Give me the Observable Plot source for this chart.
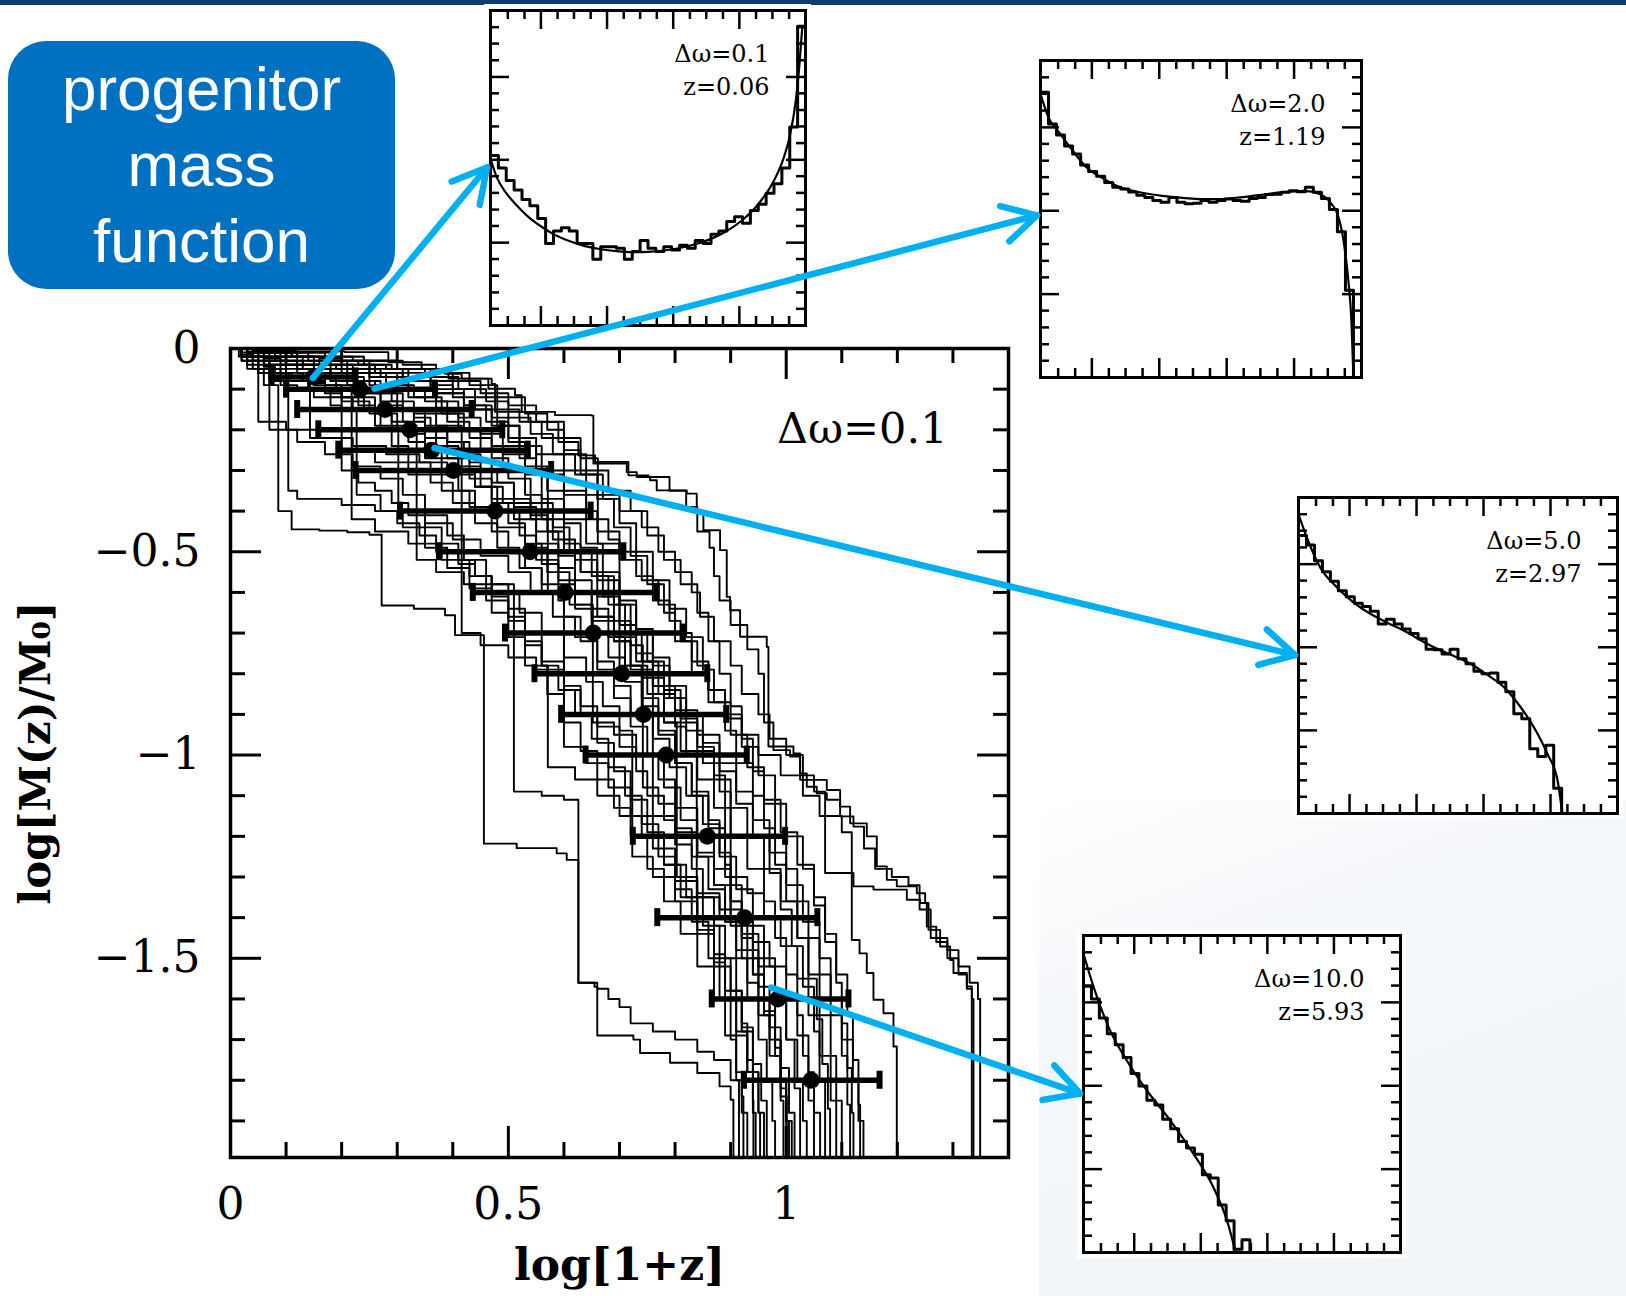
<!DOCTYPE html>
<html><head><meta charset="utf-8">
<script src="https://cdn.jsdelivr.net/npm/d3@7"></script>
<script src="https://cdn.jsdelivr.net/npm/@observablehq/plot@0.6"></script>
<style>
html,body{margin:0;padding:0;background:#fff;}
#page{position:relative;width:1626px;height:1296px;overflow:hidden;background:#fff;}
#topbar{position:absolute;left:0;top:0;width:1626px;height:5px;background:#0e3c6b;}
#tint{position:absolute;left:1039px;top:800px;width:587px;height:496px;background:linear-gradient(160deg,#ffffff 0%,#f3f6fa 35%,#f2f5f9 100%);}
#callout{position:absolute;left:8px;top:41px;width:387px;height:248px;border-radius:38px;background:#0070c0;color:#fff;
 font-family:"Liberation Sans",Arial,sans-serif;font-size:62px;line-height:76px;display:flex;align-items:center;justify-content:center;text-align:center;}
</style></head>
<body><div id="page"><div id="tint"></div><div id="topbar"></div><div id="callout"></div></div>
<script>
// ---------------- DATA ----------------
const calloutLines = ["progenitor", "mass", "function"];

// main plot axes
const xLabelTicks = [0, 0.5, 1];
const yLabelTicks = [0, -0.5, -1, -1.5];
const xMajorTicks = [0.5, 1];
const xMinorTicks = [0.1, 0.2, 0.3, 0.4, 0.6, 0.7, 0.8, 0.9, 1.1, 1.2, 1.3];
const yMajorTicks = [-0.5, -1, -1.5];
const yMinorTicks = [-0.1, -0.2, -0.3, -0.4, -0.6, -0.7, -0.8, -0.9, -1.1, -1.2, -1.3, -1.4, -1.6, -1.7, -1.8, -1.9];
const mainLabel = "Δω=0.1";
const xAxisTitle = "log[1+z]";
const yAxisTitle = "log[M(z)/M₀]";

// mean + error bars
const barY   = [-0.07, -0.1, -0.15, -0.2, -0.25, -0.3, -0.4, -0.5, -0.6, -0.7, -0.8, -0.9, -1.0, -1.2, -1.4, -1.6, -1.8];
const barMid = [0.15, 0.233, 0.278, 0.323, 0.362, 0.401, 0.476, 0.539, 0.602, 0.653, 0.704, 0.743, 0.784, 0.858, 0.925, 0.985, 1.045];
const barLo  = [0.074, 0.10, 0.12, 0.158, 0.194, 0.225, 0.305, 0.375, 0.436, 0.494, 0.547, 0.595, 0.639, 0.724, 0.768, 0.866, 0.924];
const barHi  = [0.225, 0.368, 0.434, 0.489, 0.535, 0.577, 0.648, 0.707, 0.767, 0.814, 0.858, 0.892, 0.929, 0.998, 1.056, 1.112, 1.168];

// individual merger histories [log(1+z), log M/M0]
const track01 = [[0,0],[0.03,-0.05],[0.06,-0.09],[0.086,-0.1],[0.086,-0.4],[0.11,-0.445],[0.16,-0.448],[0.21,-0.452],[0.25,-0.458],[0.272,-0.47],[0.272,-0.632],[0.33,-0.64],[0.386,-0.656],[0.404,-0.705],[0.456,-0.72],[0.456,-1.218],[0.515,-1.229],[0.587,-1.242],[0.605,-1.258],[0.626,-1.26],[0.626,-1.56],[0.655,-1.57],[0.66,-1.69],[0.725,-1.7],[0.737,-1.733],[0.791,-1.757],[0.84,-1.782],[0.88,-1.815],[0.9,-1.848],[0.905,-1.99]];
const track02 = [[0,0],[0.03,-0.03],[0.07,-0.06],[0.104,-0.12],[0.104,-0.35],[0.12,-0.37],[0.2,-0.385],[0.26,-0.4],[0.3,-0.43],[0.34,-0.46],[0.37,-0.5],[0.41,-0.53],[0.44,-0.56],[0.47,-0.58],[0.51,-0.62],[0.51,-1.09],[0.56,-1.1],[0.6,-1.11],[0.626,-1.127],[0.626,-1.56],[0.66,-1.575],[0.68,-1.6],[0.7,-1.62],[0.72,-1.66],[0.76,-1.68],[0.8,-1.7],[0.84,-1.73],[0.87,-1.75],[0.9,-1.8],[0.92,-1.84],[0.923,-1.99]];
const track03 = [[0,0],[0.05,-0.005],[0.12,-0.007],[0.206,-0.009],[0.284,-0.034],[0.344,-0.05],[0.386,-0.062],[0.416,-0.074],[0.458,-0.074],[0.47,-0.087],[0.476,-0.156],[0.584,-0.164],[0.65,-0.165],[0.653,-0.283],[0.713,-0.304],[0.731,-0.316],[0.755,-0.324],[0.767,-0.349],[0.821,-0.357],[0.839,-0.406],[0.851,-0.447],[0.881,-0.496],[0.893,-0.611],[0.899,-0.644],[0.917,-0.709],[0.965,-0.734],[0.968,-0.979],[1.013,-0.996],[1.025,-1.061],[1.073,-1.086],[1.097,-1.127],[1.115,-1.168],[1.145,-1.2],[1.163,-1.274],[1.181,-1.307],[1.199,-1.323],[1.235,-1.34],[1.25,-1.364],[1.256,-1.43],[1.277,-1.471],[1.295,-1.504],[1.301,-1.536],[1.325,-1.569],[1.334,-1.585],[1.334,-1.99]];
const track04 = [[0,0],[0.06,-0.01],[0.14,-0.02],[0.22,-0.03],[0.3,-0.05],[0.392,-0.074],[0.464,-0.099],[0.512,-0.115],[0.524,-0.156],[0.536,-0.181],[0.59,-0.23],[0.626,-0.263],[0.656,-0.279],[0.716,-0.312],[0.752,-0.316],[0.79,-0.35],[0.82,-0.39],[0.84,-0.45],[0.862,-0.49],[0.87,-0.56],[0.88,-0.62],[0.9,-0.68],[0.93,-0.74],[0.95,-0.8],[0.96,-0.92],[0.977,-0.988],[1.007,-1.004],[1.025,-1.045],[1.037,-1.078],[1.055,-1.094],[1.073,-1.11],[1.097,-1.151],[1.121,-1.176],[1.14,-1.23],[1.16,-1.28],[1.19,-1.3],[1.22,-1.32],[1.24,-1.38],[1.26,-1.45],[1.29,-1.48],[1.31,-1.52],[1.33,-1.56],[1.345,-1.6],[1.349,-1.99]];
const track05 = [[0,0],[0.05,-0.02],[0.12,-0.04],[0.2,-0.06],[0.3,-0.08],[0.36,-0.1],[0.42,-0.14],[0.47,-0.17],[0.5,-0.22],[0.55,-0.26],[0.6,-0.3],[0.64,-0.36],[0.7,-0.4],[0.74,-0.44],[0.77,-0.5],[0.8,-0.55],[0.83,-0.6],[0.845,-0.66],[0.87,-0.72],[0.9,-0.78],[0.92,-0.85],[0.95,-0.9],[0.97,-0.96],[1.0,-1.0],[1.03,-1.05],[1.05,-1.09],[1.07,-1.11],[1.07,-1.29],[1.121,-1.323],[1.157,-1.331],[1.217,-1.356],[1.241,-1.364],[1.253,-1.422],[1.27,-1.46],[1.29,-1.5],[1.31,-1.54],[1.325,-1.575],[1.334,-1.6],[1.337,-1.99]];
const track06 = [[0,0],[0.04,-0.02],[0.1,-0.04],[0.18,-0.06],[0.25,-0.09],[0.32,-0.12],[0.38,-0.16],[0.42,-0.2],[0.47,-0.24],[0.52,-0.27],[0.55,-0.31],[0.6,-0.35],[0.64,-0.4],[0.66,-0.45],[0.7,-0.5],[0.73,-0.56],[0.76,-0.62],[0.79,-0.67],[0.81,-0.72],[0.84,-0.78],[0.86,-0.84],[0.89,-0.9],[0.92,-0.95],[0.95,-1.0],[0.99,-1.05],[1.03,-1.1],[1.06,-1.15],[1.1,-1.19],[1.118,-1.21],[1.118,-1.455],[1.132,-1.488],[1.145,-1.536],[1.157,-1.602],[1.175,-1.635],[1.193,-1.717],[1.199,-1.99]];
const track07 = [[0,0],[0.03,-0.02],[0.07,-0.04],[0.12,-0.05],[0.18,-0.07],[0.24,-0.1],[0.29,-0.13],[0.33,-0.16],[0.37,-0.19],[0.416,-0.22],[0.416,-0.7],[0.45,-0.73],[0.5,-0.76],[0.55,-0.79],[0.6,-0.84],[0.63,-0.88],[0.66,-0.93],[0.7,-0.98],[0.73,-1.04],[0.75,-1.1],[0.78,-1.16],[0.8,-1.22],[0.83,-1.28],[0.85,-1.35],[0.87,-1.42],[0.89,-1.5],[0.91,-1.58],[0.92,-1.66],[0.93,-1.75],[0.94,-1.85],[0.941,-1.99]];
const track08 = [[0,0],[0.02,-0.03],[0.05,-0.05],[0.09,-0.08],[0.14,-0.1],[0.2,-0.13],[0.25,-0.16],[0.3,-0.2],[0.335,-0.22],[0.335,-0.52],[0.37,-0.55],[0.42,-0.58],[0.46,-0.62],[0.5,-0.67],[0.53,-0.73],[0.56,-0.78],[0.571,-0.8],[0.571,-1.03],[0.62,-1.06],[0.66,-1.1],[0.7,-1.15],[0.74,-1.2],[0.78,-1.27],[0.82,-1.35],[0.85,-1.42],[0.88,-1.5],[0.9,-1.58],[0.92,-1.67],[0.94,-1.78],[0.95,-1.88],[0.953,-1.99]];
const track09 = [[0,0],[0.03,-0.01],[0.07,-0.03],[0.12,-0.06],[0.17,-0.09],[0.218,-0.13],[0.218,-0.42],[0.26,-0.45],[0.32,-0.48],[0.38,-0.52],[0.43,-0.56],[0.47,-0.6],[0.52,-0.65],[0.56,-0.7],[0.6,-0.76],[0.64,-0.82],[0.67,-0.88],[0.7,-0.94],[0.723,-0.98],[0.723,-1.25],[0.76,-1.3],[0.8,-1.36],[0.84,-1.44],[0.87,-1.52],[0.9,-1.6],[0.92,-1.68],[0.94,-1.76],[0.955,-1.85],[0.965,-1.99]];
const track10 = [[0,0],[0.04,-0.02],[0.09,-0.03],[0.15,-0.05],[0.21,-0.08],[0.26,-0.11],[0.3,-0.15],[0.33,-0.2],[0.37,-0.24],[0.41,-0.29],[0.45,-0.34],[0.48,-0.4],[0.52,-0.46],[0.55,-0.52],[0.59,-0.57],[0.62,-0.63],[0.652,-0.68],[0.652,-0.92],[0.69,-0.95],[0.73,-1.0],[0.77,-1.06],[0.8,-1.13],[0.84,-1.2],[0.87,-1.28],[0.9,-1.36],[0.92,-1.45],[0.94,-1.54],[0.96,-1.64],[0.98,-1.74],[0.99,-1.85],[0.995,-1.99]];
const track11 = [[0,0],[0.05,-0.01],[0.1,-0.02],[0.16,-0.04],[0.22,-0.06],[0.28,-0.09],[0.33,-0.12],[0.37,-0.16],[0.41,-0.2],[0.45,-0.25],[0.49,-0.3],[0.53,-0.36],[0.56,-0.42],[0.6,-0.48],[0.63,-0.55],[0.67,-0.61],[0.7,-0.68],[0.73,-0.75],[0.76,-0.83],[0.78,-0.92],[0.803,-0.99],[0.803,-1.3],[0.84,-1.34],[0.88,-1.4],[0.91,-1.48],[0.93,-1.56],[0.95,-1.64],[0.97,-1.74],[0.99,-1.84],[1.001,-1.99]];
const track12 = [[0,0],[0.02,-0.02],[0.06,-0.04],[0.1,-0.07],[0.15,-0.09],[0.2,-0.12],[0.24,-0.15],[0.27,-0.2],[0.302,-0.23],[0.302,-0.4],[0.35,-0.43],[0.4,-0.47],[0.45,-0.51],[0.5,-0.55],[0.54,-0.6],[0.58,-0.66],[0.62,-0.71],[0.66,-0.77],[0.69,-0.83],[0.72,-0.9],[0.76,-0.96],[0.79,-1.03],[0.82,-1.1],[0.85,-1.17],[0.88,-1.25],[0.91,-1.33],[0.94,-1.42],[0.96,-1.5],[0.98,-1.6],[1.0,-1.7],[1.015,-1.82],[1.025,-1.99]];
const track13 = [[0,0],[0.04,-0.01],[0.08,-0.02],[0.13,-0.04],[0.19,-0.05],[0.25,-0.07],[0.3,-0.1],[0.35,-0.13],[0.39,-0.18],[0.43,-0.22],[0.47,-0.27],[0.5,-0.32],[0.54,-0.38],[0.58,-0.44],[0.61,-0.5],[0.65,-0.56],[0.68,-0.63],[0.71,-0.7],[0.74,-0.77],[0.77,-0.85],[0.8,-0.93],[0.82,-1.0],[0.839,-1.05],[0.839,-1.35],[0.88,-1.38],[0.92,-1.44],[0.95,-1.52],[0.98,-1.61],[1.0,-1.7],[1.02,-1.8],[1.03,-1.9],[1.037,-1.99]];
const track14 = [[0,0],[0.03,-0.01],[0.08,-0.02],[0.14,-0.03],[0.2,-0.04],[0.26,-0.06],[0.32,-0.08],[0.37,-0.11],[0.42,-0.14],[0.46,-0.18],[0.5,-0.23],[0.53,-0.29],[0.57,-0.35],[0.6,-0.42],[0.64,-0.48],[0.67,-0.55],[0.7,-0.62],[0.73,-0.7],[0.76,-0.78],[0.79,-0.86],[0.82,-0.94],[0.85,-1.02],[0.88,-1.09],[0.9,-1.16],[0.9,-1.42],[0.94,-1.46],[0.97,-1.52],[1.0,-1.6],[1.02,-1.69],[1.04,-1.78],[1.05,-1.88],[1.061,-1.99]];
const track15 = [[0,0],[0.06,-0.005],[0.12,-0.01],[0.18,-0.02],[0.24,-0.03],[0.3,-0.05],[0.36,-0.07],[0.41,-0.1],[0.46,-0.13],[0.5,-0.17],[0.54,-0.21],[0.58,-0.26],[0.62,-0.31],[0.66,-0.37],[0.69,-0.44],[0.72,-0.51],[0.75,-0.58],[0.78,-0.65],[0.8,-0.72],[0.83,-0.8],[0.86,-0.87],[0.89,-0.94],[0.91,-1.02],[0.94,-1.1],[0.96,-1.18],[0.98,-1.27],[1.0,-1.36],[1.02,-1.45],[1.04,-1.55],[1.055,-1.65],[1.065,-1.76],[1.075,-1.87],[1.079,-1.99]];
const track16 = [[0,0],[0.05,-0.01],[0.11,-0.02],[0.17,-0.03],[0.23,-0.04],[0.29,-0.05],[0.35,-0.06],[0.4,-0.08],[0.45,-0.11],[0.5,-0.14],[0.55,-0.18],[0.6,-0.22],[0.63,-0.27],[0.661,-0.3],[0.661,-0.48],[0.7,-0.52],[0.74,-0.57],[0.77,-0.63],[0.8,-0.7],[0.83,-0.77],[0.86,-0.84],[0.89,-0.91],[0.92,-0.98],[0.95,-1.05],[0.98,-1.12],[1.0,-1.2],[1.03,-1.28],[1.05,-1.37],[1.07,-1.46],[1.09,-1.56],[1.1,-1.66],[1.11,-1.77],[1.118,-1.88],[1.121,-1.99]];
const track17 = [[0,0],[0.04,-0.005],[0.1,-0.01],[0.17,-0.02],[0.24,-0.03],[0.31,-0.04],[0.37,-0.06],[0.43,-0.09],[0.48,-0.12],[0.53,-0.16],[0.57,-0.2],[0.6,-0.25],[0.63,-0.31],[0.67,-0.37],[0.7,-0.43],[0.73,-0.5],[0.76,-0.57],[0.79,-0.64],[0.82,-0.71],[0.85,-0.79],[0.87,-0.87],[0.9,-0.95],[0.93,-1.03],[0.96,-1.11],[0.99,-1.19],[1.02,-1.27],[1.05,-1.35],[1.07,-1.44],[1.09,-1.54],[1.11,-1.64],[1.12,-1.75],[1.13,-1.86],[1.133,-1.99]];
const track18 = [[0,0],[0.02,-0.03],[0.05,-0.06],[0.07,-0.08],[0.143,-0.09],[0.143,-0.22],[0.2,-0.25],[0.26,-0.28],[0.32,-0.31],[0.38,-0.35],[0.43,-0.39],[0.48,-0.44],[0.53,-0.49],[0.57,-0.55],[0.61,-0.6],[0.65,-0.66],[0.69,-0.71],[0.73,-0.77],[0.76,-0.83],[0.8,-0.89],[0.84,-0.95],[0.88,-1.02],[0.91,-1.09],[0.94,-1.16],[0.97,-1.24],[1.0,-1.32],[1.03,-1.41],[1.06,-1.5],[1.08,-1.6],[1.1,-1.7],[1.12,-1.8],[1.13,-1.9],[1.139,-1.99]];
const track19 = [[0,0],[0.02,-0.02],[0.05,-0.04],[0.09,-0.06],[0.13,-0.08],[0.17,-0.11],[0.2,-0.15],[0.227,-0.17],[0.227,-0.36],[0.27,-0.4],[0.31,-0.44],[0.35,-0.49],[0.39,-0.54],[0.43,-0.59],[0.47,-0.65],[0.5,-0.71],[0.53,-0.78],[0.57,-0.85],[0.6,-0.92],[0.63,-0.99],[0.66,-1.06],[0.69,-1.13],[0.72,-1.2],[0.75,-1.28],[0.78,-1.36],[0.81,-1.44],[0.84,-1.52],[0.87,-1.6],[0.89,-1.69],[0.91,-1.78],[0.92,-1.88],[0.93,-1.99]];
const track20 = [[0,0],[0.03,-0.02],[0.07,-0.05],[0.1,-0.07],[0.14,-0.1],[0.18,-0.12],[0.22,-0.15],[0.26,-0.19],[0.29,-0.24],[0.32,-0.28],[0.36,-0.33],[0.4,-0.38],[0.44,-0.43],[0.48,-0.49],[0.52,-0.54],[0.56,-0.6],[0.6,-0.66],[0.63,-0.72],[0.66,-0.79],[0.69,-0.86],[0.72,-0.93],[0.75,-1.0],[0.78,-1.08],[0.81,-1.16],[0.84,-1.24],[0.87,-1.32],[0.89,-1.41],[0.91,-1.5],[0.93,-1.6],[0.95,-1.7],[0.965,-1.8],[0.975,-1.9],[0.98,-1.99]];
const track21 = [[0,0],[0.05,-0.02],[0.1,-0.04],[0.16,-0.06],[0.22,-0.08],[0.27,-0.11],[0.31,-0.15],[0.35,-0.19],[0.39,-0.23],[0.43,-0.28],[0.47,-0.33],[0.51,-0.39],[0.55,-0.45],[0.59,-0.51],[0.62,-0.57],[0.65,-0.64],[0.68,-0.71],[0.71,-0.78],[0.74,-0.86],[0.77,-0.94],[0.8,-1.02],[0.83,-1.1],[0.86,-1.18],[0.89,-1.27],[0.9,-1.36],[0.92,-1.45],[0.94,-1.54],[0.96,-1.63],[0.98,-1.72],[0.99,-1.82],[1.0,-1.9],[1.01,-1.99]];
const track22 = [[0,0],[0.06,-0.01],[0.12,-0.02],[0.18,-0.03],[0.25,-0.05],[0.31,-0.07],[0.36,-0.09],[0.4,-0.12],[0.44,-0.15],[0.48,-0.19],[0.52,-0.24],[0.55,-0.3],[0.571,-0.33],[0.571,-0.6],[0.61,-0.63],[0.65,-0.67],[0.69,-0.72],[0.72,-0.78],[0.75,-0.85],[0.78,-0.92],[0.81,-0.99],[0.84,-1.06],[0.87,-1.13],[0.9,-1.2],[0.93,-1.28],[0.96,-1.36],[0.98,-1.45],[1.0,-1.54],[1.02,-1.64],[1.03,-1.74],[1.04,-1.85],[1.05,-1.99]];
const track23 = [[0,0],[0.04,-0.01],[0.09,-0.02],[0.15,-0.03],[0.21,-0.05],[0.27,-0.07],[0.32,-0.1],[0.37,-0.13],[0.41,-0.17],[0.45,-0.21],[0.49,-0.26],[0.53,-0.31],[0.56,-0.37],[0.6,-0.43],[0.63,-0.49],[0.66,-0.56],[0.69,-0.63],[0.72,-0.7],[0.75,-0.77],[0.78,-0.84],[0.81,-0.91],[0.84,-0.98],[0.87,-1.05],[0.89,-1.12],[0.89,-1.3],[0.93,-1.34],[0.96,-1.4],[0.99,-1.47],[1.02,-1.55],[1.04,-1.64],[1.06,-1.74],[1.08,-1.85],[1.09,-1.99]];
const track24 = [[0,0],[0.02,-0.02],[0.04,-0.05],[0.07,-0.07],[0.07,-0.2],[0.12,-0.23],[0.17,-0.26],[0.22,-0.29],[0.27,-0.32],[0.31,-0.36],[0.35,-0.41],[0.39,-0.46],[0.42,-0.52],[0.46,-0.58],[0.5,-0.64],[0.53,-0.7],[0.56,-0.77],[0.6,-0.83],[0.63,-0.9],[0.66,-0.97],[0.69,-1.04],[0.72,-1.11],[0.75,-1.19],[0.78,-1.27],[0.81,-1.35],[0.84,-1.43],[0.87,-1.51],[0.89,-1.6],[0.91,-1.69],[0.93,-1.78],[0.95,-1.88],[0.96,-1.99]];
const track25 = [[0,0],[0.05,-0.01],[0.11,-0.02],[0.18,-0.04],[0.25,-0.06],[0.31,-0.08],[0.37,-0.11],[0.42,-0.15],[0.47,-0.19],[0.52,-0.24],[0.56,-0.3],[0.6,-0.36],[0.64,-0.42],[0.68,-0.47],[0.7,-0.5],[0.7,-0.78],[0.74,-0.81],[0.78,-0.86],[0.81,-0.92],[0.84,-0.99],[0.87,-1.06],[0.9,-1.13],[0.93,-1.2],[0.96,-1.28],[0.99,-1.36],[1.02,-1.45],[1.04,-1.54],[1.06,-1.64],[1.08,-1.74],[1.09,-1.85],[1.1,-1.99]];
const track26 = [[0,0],[0.03,-0.01],[0.06,-0.03],[0.1,-0.05],[0.15,-0.07],[0.19,-0.1],[0.23,-0.12],[0.26,-0.15],[0.29,-0.19],[0.32,-0.23],[0.35,-0.27],[0.38,-0.31],[0.41,-0.35],[0.44,-0.4],[0.47,-0.45],[0.5,-0.5],[0.53,-0.54],[0.56,-0.58],[0.59,-0.62],[0.6,-0.64],[0.6,-0.98],[0.64,-1.02],[0.68,-1.08],[0.72,-1.15],[0.76,-1.23],[0.8,-1.31],[0.84,-1.4],[0.87,-1.49],[0.89,-1.58],[0.91,-1.68],[0.93,-1.78],[0.94,-1.88],[0.945,-1.99]];
const track27 = [[0,0],[0.04,-0.02],[0.08,-0.03],[0.13,-0.05],[0.18,-0.08],[0.23,-0.11],[0.27,-0.14],[0.31,-0.18],[0.35,-0.22],[0.39,-0.27],[0.43,-0.32],[0.47,-0.37],[0.51,-0.42],[0.55,-0.48],[0.59,-0.54],[0.62,-0.6],[0.66,-0.66],[0.69,-0.72],[0.72,-0.79],[0.76,-0.85],[0.76,-1.15],[0.8,-1.19],[0.84,-1.25],[0.87,-1.32],[0.9,-1.4],[0.93,-1.48],[0.95,-1.57],[0.97,-1.67],[0.99,-1.77],[1.005,-1.88],[1.015,-1.99]];
const track28 = [[0,0],[0.02,-0.01],[0.05,-0.03],[0.05,-0.18],[0.1,-0.2],[0.16,-0.22],[0.22,-0.24],[0.28,-0.26],[0.34,-0.28],[0.39,-0.31],[0.44,-0.34],[0.49,-0.38],[0.54,-0.42],[0.58,-0.47],[0.62,-0.52],[0.66,-0.57],[0.7,-0.63],[0.73,-0.69],[0.76,-0.76],[0.79,-0.83],[0.82,-0.9],[0.85,-0.97],[0.88,-1.04],[0.91,-1.12],[0.94,-1.2],[0.97,-1.29],[0.99,-1.38],[1.01,-1.47],[1.03,-1.57],[1.05,-1.68],[1.06,-1.8],[1.07,-1.99]];
const track29 = [[0,0],[0.02,-0.015],[0.04,-0.03],[0.06,-0.045],[0.08,-0.06],[0.11,-0.07],[0.14,-0.085],[0.17,-0.1],[0.2,-0.12],[0.23,-0.14],[0.26,-0.16],[0.29,-0.18],[0.32,-0.21],[0.35,-0.24],[0.38,-0.27],[0.41,-0.3],[0.44,-0.34],[0.47,-0.38],[0.5,-0.43],[0.53,-0.48],[0.56,-0.53],[0.59,-0.58],[0.62,-0.64],[0.65,-0.7],[0.68,-0.76],[0.71,-0.82],[0.74,-0.88],[0.77,-0.95],[0.8,-1.02],[0.83,-1.09],[0.86,-1.16],[0.88,-1.24],[0.9,-1.32],[0.92,-1.41],[0.94,-1.5],[0.96,-1.6],[0.98,-1.7],[0.99,-1.8],[1.0,-1.99]];
const track30 = [[0,0],[0.03,-0.01],[0.06,-0.025],[0.09,-0.04],[0.12,-0.05],[0.15,-0.06],[0.18,-0.08],[0.21,-0.09],[0.24,-0.11],[0.27,-0.13],[0.3,-0.15],[0.33,-0.17],[0.36,-0.2],[0.39,-0.23],[0.42,-0.26],[0.45,-0.3],[0.48,-0.33],[0.51,-0.37],[0.54,-0.41],[0.57,-0.45],[0.6,-0.5],[0.63,-0.55],[0.66,-0.61],[0.69,-0.67],[0.72,-0.73],[0.742,-0.78],[0.742,-1.08],[0.77,-1.12],[0.8,-1.18],[0.83,-1.25],[0.86,-1.33],[0.89,-1.41],[0.92,-1.5],[0.95,-1.6],[0.97,-1.7],[0.99,-1.8],[1.0,-1.9],[1.005,-1.99]];
const track31 = [[0,0],[0.015,-0.02],[0.03,-0.04],[0.05,-0.06],[0.07,-0.075],[0.09,-0.09],[0.12,-0.1],[0.15,-0.12],[0.18,-0.14],[0.2,-0.16],[0.2,-0.3],[0.23,-0.33],[0.26,-0.35],[0.29,-0.38],[0.32,-0.41],[0.35,-0.44],[0.38,-0.48],[0.41,-0.52],[0.44,-0.56],[0.47,-0.61],[0.5,-0.66],[0.53,-0.72],[0.56,-0.78],[0.59,-0.84],[0.62,-0.9],[0.65,-0.96],[0.68,-1.03],[0.71,-1.1],[0.74,-1.17],[0.77,-1.25],[0.8,-1.33],[0.83,-1.41],[0.86,-1.5],[0.88,-1.6],[0.9,-1.7],[0.91,-1.8],[0.915,-1.99]];
const track32 = [[0,0],[0.04,-0.005],[0.08,-0.01],[0.12,-0.02],[0.16,-0.025],[0.2,-0.03],[0.24,-0.04],[0.28,-0.05],[0.32,-0.06],[0.36,-0.08],[0.4,-0.1],[0.44,-0.12],[0.48,-0.15],[0.52,-0.18],[0.56,-0.22],[0.6,-0.26],[0.64,-0.3],[0.68,-0.35],[0.72,-0.4],[0.75,-0.46],[0.78,-0.52],[0.81,-0.58],[0.84,-0.65],[0.86,-0.72],[0.88,-0.8],[0.9,-0.88],[0.92,-0.96],[0.94,-1.04],[0.96,-1.12],[0.98,-1.2],[1.0,-1.28],[1.02,-1.36],[1.04,-1.45],[1.06,-1.54],[1.08,-1.64],[1.1,-1.74],[1.11,-1.86],[1.115,-1.99]];

// insets: progenitor mass functions (histogram bin heights, bin width 0.025, and analytic curve)
const insetBinWidth = 0.025;
const inset1Bins = [0.54,0.50,0.46,0.43,0.40,0.38,0.34,0.26,0.30,0.31,0.30,0.26,0.26,0.21,0.25,0.25,0.245,0.21,0.235,0.27,0.245,0.235,0.25,0.24,0.255,0.245,0.27,0.26,0.29,0.30,0.33,0.345,0.325,0.365,0.385,0.42,0.45,0.50,0.63,0.95];
const inset1CurveX = [0,0.02,0.05,0.08,0.12,0.16,0.2,0.25,0.3,0.35,0.4,0.45,0.5,0.55,0.6,0.65,0.7,0.75,0.8,0.85,0.9,0.93,0.95,0.97,0.98,0.99];
const inset1CurveY = [0.53,0.47,0.42,0.385,0.345,0.315,0.29,0.268,0.252,0.242,0.236,0.233,0.234,0.238,0.246,0.258,0.275,0.3,0.335,0.385,0.46,0.53,0.6,0.72,0.82,0.95];
const inset2Bins = [0.9,0.8,0.765,0.73,0.705,0.67,0.65,0.635,0.615,0.6,0.595,0.585,0.575,0.568,0.558,0.553,0.568,0.553,0.548,0.55,0.558,0.553,0.558,0.563,0.558,0.556,0.565,0.568,0.577,0.578,0.584,0.589,0.586,0.6,0.584,0.565,0.53,0.46,0.275,0];
const inset2CurveX = [0,0.025,0.062,0.1,0.143,0.2,0.248,0.3,0.373,0.45,0.497,0.55,0.621,0.7,0.745,0.82,0.87,0.907,0.925,0.944,0.957,0.969,0.975];
const inset2CurveY = [0.895,0.82,0.768,0.716,0.663,0.625,0.6,0.586,0.574,0.566,0.563,0.563,0.568,0.578,0.584,0.589,0.579,0.547,0.516,0.432,0.326,0.168,0];
const inset3Bins = [0.88,0.85,0.8,0.765,0.735,0.705,0.686,0.665,0.655,0.64,0.6,0.615,0.6,0.584,0.57,0.553,0.52,0.518,0.505,0.52,0.49,0.474,0.45,0.442,0.445,0.415,0.385,0.316,0.3,0.205,0.18,0.216,0.08,0];
const inset3CurveX = [0,0.026,0.068,0.12,0.17,0.225,0.28,0.33,0.38,0.435,0.49,0.539,0.59,0.644,0.696,0.749,0.78,0.812,0.827];
const inset3CurveY = [0.947,0.874,0.779,0.716,0.67,0.632,0.603,0.579,0.55,0.521,0.497,0.474,0.44,0.4,0.337,0.253,0.189,0.105,0];
const inset4Bins = [0.84,0.8,0.74,0.69,0.655,0.615,0.565,0.525,0.48,0.465,0.42,0.39,0.35,0.33,0.31,0.245,0.235,0.15,0.1,0.01,0.04,0];
const inset4CurveX = [0,0.032,0.084,0.137,0.2,0.274,0.347,0.41,0.453,0.479];
const inset4CurveY = [0.942,0.837,0.7,0.605,0.511,0.416,0.311,0.205,0.1,0.005];
const insetLabel1 = ["Δω=0.1", "Δω=2.0", "Δω=5.0", "Δω=10.0"];
const insetLabel2 = ["z=0.06", "z=1.19", "z=2.97", "z=5.93"];
const insetXMajor = [0.16, 0.37, 0.58, 0.79];
const insetXMinor = [0.055, 0.108, 0.213, 0.265, 0.318, 0.423, 0.475, 0.528, 0.633, 0.685, 0.738, 0.843, 0.895, 0.948];
const insetYMajor = [0.263, 0.526, 0.789];
const insetYMinor = [0.053, 0.105, 0.158, 0.211, 0.316, 0.368, 0.421, 0.474, 0.579, 0.632, 0.684, 0.737, 0.842, 0.895, 0.947];

// arrows: from a point of the main diagram to the middle of an inset's left edge
const arrowFrom = [[0.149, -0.074], [0.26, -0.1], [0.368, -0.246], [0.974, -1.573]];
const arrowToInset = [0, 1, 2, 3];
const arrowToY = [0.5, 0.51, 0.5, 0.5];

// ---------------- LAYOUT ----------------
const page = document.getElementById("page");
document.getElementById("callout").innerHTML = calloutLines.join("<br>");

const X0 = 0, X1 = 1.4, Y0 = -1.99, Y1 = 0;
const mainBox = {left: 230, top: 348, right: 1008, bottom: 1157};
const mainSvgTop = 300, mainSvgLeft = 0, mainW = 1040, mainH = 996;
const pxX = (mainBox.right - mainBox.left) / (X1 - X0);
const pxY = (mainBox.bottom - mainBox.top) / (Y1 - Y0);
const minLenY = 15 / pxY, majLenY = 31 / pxY, minLenX = 15 / pxX, majLenX = 31 / pxX;
const capH = 9 / pxY;

const fmt = d => d === 0 ? "0" : (d < 0 ? "\u2212" : "") + String(Math.abs(d));
const tracks = [track01,track02,track03,track04,track05,track06,track07,track08,track09,track10,track11,track12,track13,track14,track15,track16,track17,track18,track19,track20,track21,track22,track23,track24,track25,track26,track27,track28,track29,track30,track31,track32];
const trackRows = tracks.flatMap((t, i) => t.map(([x, y]) => ({id: i, x, y})));
const bars = barY.map((y, i) => ({y, mid: barMid[i], lo: barLo[i], hi: barHi[i]}));
const tw = 3;

const main = Plot.plot({
  width: mainW, height: mainH,
  marginLeft: mainBox.left - mainSvgLeft, marginRight: mainSvgLeft + mainW - mainBox.right,
  marginTop: mainBox.top - mainSvgTop, marginBottom: mainSvgTop + mainH - mainBox.bottom,
  x: {domain: [X0, X1]}, y: {domain: [Y0, Y1]},
  style: {background: "transparent", fontFamily: "DejaVu Serif", overflow: "visible", color: "#000"},
  marks: [
    Plot.line(trackRows, {x: "x", y: "y", z: "id", curve: "step-after", stroke: "#000", strokeWidth: 1.9, clip: true}),
    Plot.ruleY(bars, {y: "y", x1: "lo", x2: "hi", stroke: "#000", strokeWidth: 5.5}),
    Plot.ruleX(bars, {x: "lo", y1: d => d.y - capH, y2: d => d.y + capH, stroke: "#000", strokeWidth: 6}),
    Plot.ruleX(bars, {x: "hi", y1: d => d.y - capH, y2: d => d.y + capH, stroke: "#000", strokeWidth: 6}),
    Plot.dot(bars, {x: "mid", y: "y", r: 8.5, fill: "#000", stroke: null}),
    Plot.ruleX(xMinorTicks, {x: d => d, y1: Y1, y2: Y1 - minLenY, strokeWidth: tw}),
    Plot.ruleX(xMinorTicks, {x: d => d, y1: Y0, y2: Y0 + minLenY, strokeWidth: tw}),
    Plot.ruleX(xMajorTicks, {x: d => d, y1: Y1, y2: Y1 - majLenY, strokeWidth: tw}),
    Plot.ruleX(xMajorTicks, {x: d => d, y1: Y0, y2: Y0 + majLenY, strokeWidth: tw}),
    Plot.ruleY(yMinorTicks, {y: d => d, x1: X0, x2: X0 + minLenX, strokeWidth: tw}),
    Plot.ruleY(yMinorTicks, {y: d => d, x1: X1, x2: X1 - minLenX, strokeWidth: tw}),
    Plot.ruleY(yMajorTicks, {y: d => d, x1: X0, x2: X0 + majLenX, strokeWidth: tw}),
    Plot.ruleY(yMajorTicks, {y: d => d, x1: X1, x2: X1 - majLenX, strokeWidth: tw}),
    Plot.frame({stroke: "#000", strokeWidth: 3.5}),
    Plot.axisX({ticks: xLabelTicks, tickSize: 0, tickPadding: 30, tickFormat: fmt, fontSize: 44, label: null}),
    Plot.axisY({ticks: yLabelTicks, tickSize: 0, tickPadding: 30, tickFormat: fmt, fontSize: 44, label: null}),
    Plot.text([xAxisTitle], {text: d => d, frameAnchor: "bottom", dy: 108, textAnchor: "middle", lineAnchor: "middle", fontSize: 44, fontWeight: "bold"}),
    Plot.text([yAxisTitle], {text: d => d, frameAnchor: "left", dx: -194, rotate: -90, textAnchor: "middle", lineAnchor: "middle", fontSize: 42, fontWeight: "bold"}),
    Plot.text([mainLabel], {text: d => d, frameAnchor: "top-right", dx: -61, dy: 81, textAnchor: "end", lineAnchor: "middle", fontSize: 43})
  ]
});
main.style.position = "absolute";
main.style.left = mainSvgLeft + "px";
main.style.top = mainSvgTop + "px";
page.appendChild(main);

// insets
const insetBoxes = [
  {left: 490, top: 10, right: 805, bottom: 325},
  {left: 1040, top: 60, right: 1361, bottom: 377},
  {left: 1298, top: 497, right: 1617, bottom: 813},
  {left: 1083, top: 935, right: 1400, bottom: 1252}
];
const insetBins = [inset1Bins, inset2Bins, inset3Bins, inset4Bins];
const insetCX = [inset1CurveX, inset2CurveX, inset3CurveX, inset4CurveX];
const insetCY = [inset1CurveY, inset2CurveY, inset3CurveY, inset4CurveY];
const pad = 6;
const insetPlots = insetBoxes.map((b, i) => {
  const w = b.right - b.left, h = b.bottom - b.top;
  const bins = insetBins[i];
  const hist = bins.map((v, k) => ({x: k * insetBinWidth, y: v}));
  hist.push({x: Math.min(1, bins.length * insetBinWidth), y: bins[bins.length - 1]});
  const curve = insetCX[i].map((x, k) => ({x, y: insetCY[i][k]}));
  const minX = 9 / h, majX = 19 / h, minY = 9 / w, majY = 19 / w;
  const p = Plot.plot({
    width: w + 2 * pad, height: h + 2 * pad, margin: pad,
    x: {domain: [0, 1], axis: null}, y: {domain: [0, 1], axis: null},
    style: {background: "#fff", fontFamily: "DejaVu Serif", overflow: "visible", color: "#000"},
    marks: [
      Plot.line(hist, {x: "x", y: "y", curve: "step-after", stroke: "#000", strokeWidth: 3, clip: true}),
      Plot.line(curve, {x: "x", y: "y", curve: "monotone-x", stroke: "#000", strokeWidth: 2.2, clip: true}),
      Plot.ruleX(insetXMinor, {x: d => d, y1: 1, y2: 1 - minX, strokeWidth: 2.5}),
      Plot.ruleX(insetXMinor, {x: d => d, y1: 0, y2: minX, strokeWidth: 2.5}),
      Plot.ruleX(insetXMajor, {x: d => d, y1: 1, y2: 1 - majX, strokeWidth: 2.5}),
      Plot.ruleX(insetXMajor, {x: d => d, y1: 0, y2: majX, strokeWidth: 2.5}),
      Plot.ruleY(insetYMinor, {y: d => d, x1: 0, x2: minY, strokeWidth: 2.5}),
      Plot.ruleY(insetYMinor, {y: d => d, x1: 1, x2: 1 - minY, strokeWidth: 2.5}),
      Plot.ruleY(insetYMajor, {y: d => d, x1: 0, x2: majY, strokeWidth: 2.5}),
      Plot.ruleY(insetYMajor, {y: d => d, x1: 1, x2: 1 - majY, strokeWidth: 2.5}),
      Plot.frame({stroke: "#000", strokeWidth: 3}),
      Plot.text([insetLabel1[i]], {text: d => d, frameAnchor: "top-right", dx: -36, dy: 44, textAnchor: "end", lineAnchor: "middle", fontSize: 24}),
      Plot.text([insetLabel2[i]], {text: d => d, frameAnchor: "top-right", dx: -36, dy: 77, textAnchor: "end", lineAnchor: "middle", fontSize: 24})
    ]
  });
  p.style.position = "absolute";
  p.style.left = (b.left - pad) + "px";
  p.style.top = (b.top - pad) + "px";
  page.appendChild(p);
  return p;
});

// arrows overlay
const ov = d3.create("svg").attr("width", 1626).attr("height", 1296)
  .style("position", "absolute").style("left", "0px").style("top", "0px").style("pointer-events", "none");
const sx = main.scale("x"), sy = main.scale("y");
arrowFrom.forEach((f, i) => {
  const x0 = mainSvgLeft + sx.apply(f[0]);
  const y0 = mainSvgTop + sy.apply(f[1]);
  const k = arrowToInset[i];
  const b = insetBoxes[k];
  const x1 = b.left - 3;
  const y1 = (b.top - pad) + insetPlots[k].scale("y").apply(arrowToY[i]);
  const th = Math.atan2(y1 - y0, x1 - x0), L = 38, phi = 0.5;
  const a1 = [x1 - L * Math.cos(th - phi), y1 - L * Math.sin(th - phi)];
  const a2 = [x1 - L * Math.cos(th + phi), y1 - L * Math.sin(th + phi)];
  ov.append("line").attr("x1", x0).attr("y1", y0).attr("x2", x1).attr("y2", y1)
    .attr("stroke", "#00b0f0").attr("stroke-width", 6.5).attr("stroke-linecap", "round");
  ov.append("path").attr("d", `M${a1[0]},${a1[1]}L${x1},${y1}L${a2[0]},${a2[1]}`)
    .attr("fill", "none").attr("stroke", "#00b0f0").attr("stroke-width", 6.5)
    .attr("stroke-linecap", "round").attr("stroke-linejoin", "round");
});
page.appendChild(ov.node());
</script>
</body></html>
